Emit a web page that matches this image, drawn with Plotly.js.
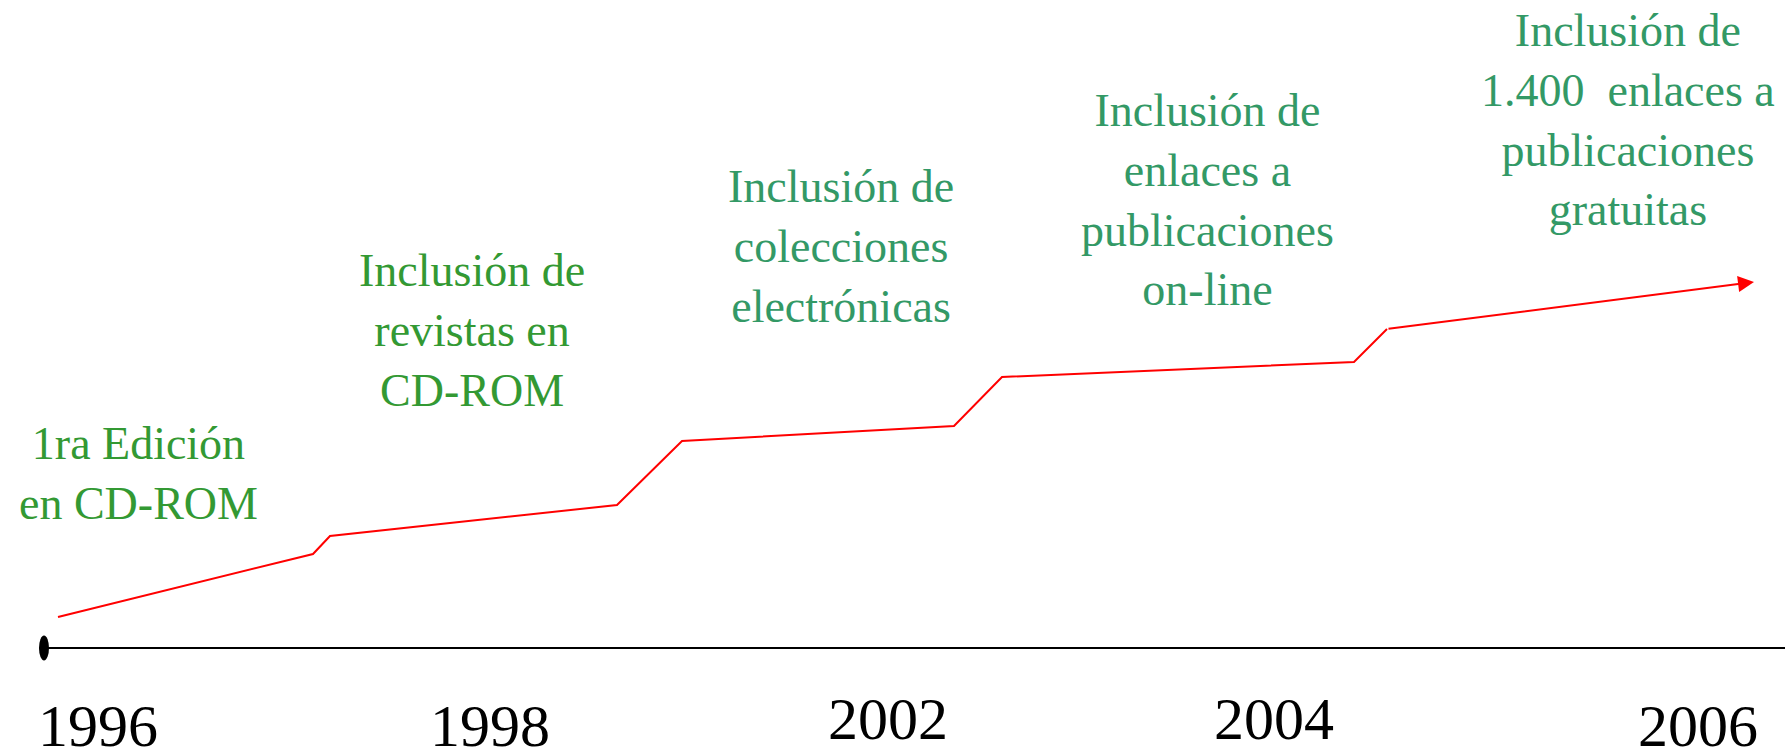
<!DOCTYPE html>
<html>
<head>
<meta charset="utf-8">
<script src="https://cdn.plot.ly/plotly-3.0.1.min.js"></script>
<style>html,body{margin:0;padding:0;background:#fff;}#chart{width:1785px;height:752px;}</style>
</head>
<body>
<div id="chart"></div>
<script>
// Timeline years (labels) and their positions along the timeline
const years = ['1996', '1998', '2002', '2004', '2006'];
const yearPos = [0, 0.98, 1.975, 2.94, 4.0];
const yearLevel = [-0.78, -0.78, -0.71, -0.71, -0.78];

// Growth line (schematic level of content over the timeline)
const growthX = [-0.1, 0.5375, 0.58, 1.2975, 1.46, 2.14, 2.26, 3.14, 3.2225, 4.14];
const growthY = [0.31, 0.94, 1.12, 1.43, 2.07, 2.22, 2.71, 2.86, 3.19, 3.66];

// Milestones
const milestones = [
  '1ra Edición<br>en CD-ROM',
  'Inclusión de<br>revistas en<br>CD-ROM',
  'Inclusión de<br>colecciones<br>electrónicas',
  'Inclusión de<br>enlaces a<br>publicaciones<br>on-line',
  'Inclusión de<br>1.400  enlaces a<br>publicaciones<br>gratuitas'
];
const milestoneX = [0.1, 0.935, 1.8575, 2.7725, 3.825];
const milestoneY = [1.745, 3.18, 4.015, 4.485, 5.285];
const milestoneColors = ['#339933', '#339933', '#339966', '#339966', '#339966'];

// Timeline origin
const originX = -0.135;
const originY = 0;

const xRange = [-0.245, 4.2175];
const yRange = [-1.04, 6.48];

const n = growthX.length;
const traces = [{
  x: growthX.slice(0, n - 1),
  y: growthY.slice(0, n - 1),
  mode: 'lines',
  line: {color: '#ff0000', width: 2},
  hoverinfo: 'skip',
  showlegend: false
}];

const annotations = [];
// final arrow segment
annotations.push({
  x: growthX[n - 1], y: growthY[n - 1], xref: 'x', yref: 'y',
  ax: growthX[n - 2], ay: growthY[n - 2], axref: 'x', ayref: 'y',
  text: ' ', font: {size: 1},
  showarrow: true, arrowhead: 2, arrowsize: 1.6, arrowwidth: 2,
  arrowcolor: '#ff0000', standoff: 0, startstandoff: 0
});
milestones.forEach((t, i) => {
  annotations.push({
    x: milestoneX[i], y: milestoneY[i], xref: 'x', yref: 'y',
    text: t, showarrow: false, align: 'center',
    xanchor: 'center', yanchor: 'middle',
    font: {family: 'Liberation Serif, Times New Roman, serif', size: 46, color: milestoneColors[i]}
  });
});
years.forEach((t, i) => {
  annotations.push({
    x: yearPos[i], y: yearLevel[i], xref: 'x', yref: 'y',
    text: t, showarrow: false,
    xanchor: 'center', yanchor: 'middle',
    font: {family: 'Liberation Serif, Times New Roman, serif', size: 60, color: '#000000'}
  });
});

const shapes = [
  {type: 'line', xref: 'x', yref: 'y', x0: originX, x1: xRange[1], y0: originY, y1: originY,
   line: {color: '#000000', width: 2}},
  {type: 'circle', xref: 'x', yref: 'y', xsizemode: 'pixel', ysizemode: 'pixel',
   xanchor: originX, yanchor: originY, x0: -5, x1: 5, y0: -12.5, y1: 12.5,
   fillcolor: '#000000', line: {width: 0}}
];

const layout = {
  width: 1785, height: 752,
  margin: {l: 0, r: 0, t: 0, b: 0, pad: 0},
  paper_bgcolor: '#ffffff', plot_bgcolor: '#ffffff',
  xaxis: {range: xRange, visible: false, fixedrange: true},
  yaxis: {range: yRange, visible: false, fixedrange: true},
  showlegend: false,
  annotations: annotations,
  shapes: shapes,
  font: {family: 'Liberation Serif, Times New Roman, serif'}
};

Plotly.newPlot('chart', traces, layout, {staticPlot: true, displayModeBar: false});
</script>
</body>
</html>
